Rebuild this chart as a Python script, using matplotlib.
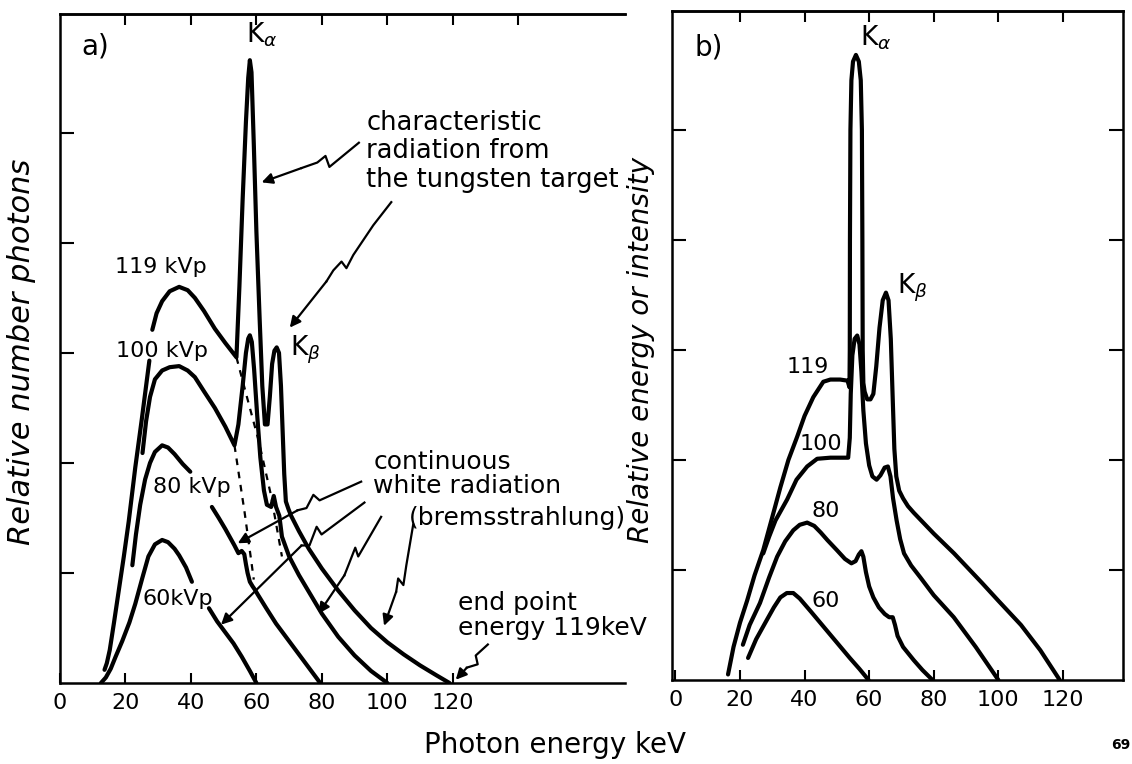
"""X-ray tube spectra from a tungsten target: a) photon number, b) energy/intensity."""
import matplotlib
matplotlib.use("Agg")
import matplotlib.pyplot as plt

plt.rcParams["font.family"] = ["DejaVu Sans"]
plt.rcParams["mathtext.fontset"] = "dejavusans"

# ---- panel a: relative number of photons (keV, relative units) -------------
A119_RISE_E = [13.6, 14.3, 15.2, 16.5, 18.0, 19.5, 21.0, 23.0, 25.0, 27.3]
A119_RISE_Y = [0.12, 0.18, 0.30, 0.55, 0.85, 1.15, 1.47, 1.96, 2.40, 2.93]
A119_E = [28.2, 29.5, 31.2, 33.5, 36.4, 39.0, 41.2, 44.0, 47.3, 50.5, 53.9, 54.8,
          55.8, 56.8, 57.5, 58.0, 58.5, 59.2, 60.0, 61.0, 61.8, 62.6, 63.4, 64.1,
          64.8, 65.5, 66.2, 66.9, 67.5, 68.0, 68.5, 69.0, 69.8, 70.6, 73, 76, 80,
          85, 90, 95, 100, 105, 110, 115, 119]
A119_Y = [3.21, 3.36, 3.47, 3.56, 3.60, 3.57, 3.50, 3.38, 3.22, 3.09, 2.96, 3.6,
          4.4, 5.1, 5.5, 5.66, 5.55, 4.9, 4.1, 3.3, 2.7, 2.35, 2.35, 2.6,
          2.9, 3.02, 3.05, 3.0, 2.7, 2.3, 1.9, 1.65, 1.58, 1.52, 1.38, 1.22, 1.04,
          0.84, 0.66, 0.50, 0.37, 0.26, 0.16, 0.07, 0]
A100_E = [25.2, 26.3, 27.5, 29.0, 31.2, 33.5, 36.4, 39.0, 41.2, 44.0, 47.3, 50.5,
          53.3, 54.5, 55.8, 56.8, 57.5, 58.0, 58.6, 59.3, 60.2, 61.2, 62.3, 63.2,
          64.5, 65.3, 66.0, 67.0, 67.8, 70, 73, 76, 80, 85, 90, 95, 100]
A100_Y = [2.09, 2.38, 2.60, 2.76, 2.84, 2.87, 2.88, 2.84, 2.78, 2.65, 2.50, 2.33,
          2.16, 2.35, 2.7, 3.0, 3.13, 3.16, 3.1, 2.85, 2.45, 2.05, 1.75, 1.62,
          1.60, 1.70, 1.60, 1.52, 1.33, 1.15, 0.98, 0.83, 0.63, 0.42, 0.25, 0.11, 0]
A80_UP_E = [22.1, 23.2, 24.5, 26.0, 27.5, 29.0, 31.2, 33.0, 35.0, 37.5, 39.8]
A80_UP_Y = [1.07, 1.35, 1.62, 1.85, 2.00, 2.10, 2.16, 2.14, 2.08, 1.99, 1.92]
A80_LO_E = [46.4, 48.5, 50.5, 53.3, 54.5, 55.5, 56.3, 56.8, 57.3, 58.0, 58.8, 59.5,
            60.5, 63.0, 66.0, 68.5, 71.0, 74.0, 77.0, 79.5]
A80_LO_Y = [1.60, 1.50, 1.40, 1.25, 1.18, 1.20, 1.17, 1.08, 1.00, 0.92, 0.88, 0.85,
            0.80, 0.68, 0.54, 0.44, 0.34, 0.22, 0.10, 0]
A60_UP_E = [12.5, 14.0, 15.5, 17.0, 19.0, 21.2, 23.0, 25.2, 27.0, 29.0, 31.2, 33.0,
            35.0, 36.4, 38.5, 40.3]
A60_UP_Y = [0, 0.05, 0.13, 0.24, 0.38, 0.55, 0.72, 0.96, 1.15, 1.26, 1.30, 1.28,
            1.22, 1.16, 1.05, 0.92]
A60_LO_E = [45.5, 48, 50.5, 53, 55.5, 58, 60]
A60_LO_Y = [0.68, 0.56, 0.46, 0.36, 0.24, 0.11, 0]
DASH_A_E = [53.9, 57.1, 60.7, 64.5, 67.8]
DASH_A_Y = [2.96, 2.60, 2.20, 1.70, 1.15]
DASH_B_E = [53.3, 56.4, 59.2]
DASH_B_Y = [2.16, 1.55, 0.94]

# ---- panel b: relative energy or intensity ---------------------------------
B119_E = [16.3, 18, 20, 22.2, 24.5, 27.2, 30, 32.5, 35, 37.7, 40, 42.7, 45.8, 48,
          51, 53.3, 53.9, 54.0, 54.05, 54.2, 54.5, 55.0, 55.9, 56.8, 57.4, 57.75,
          57.9, 58.0, 58.2, 58.6, 59.4, 60.4, 61.3, 62.2, 63.2, 64.2, 65.2, 66.0,
          66.7, 67.3, 67.8, 68.4, 69.3, 70.5, 72, 73.8, 80, 86.3, 95, 100, 107,
          113, 119]
B119_Y = [0.05, 0.30, 0.52, 0.72, 0.95, 1.18, 1.48, 1.75, 2.0, 2.21, 2.4, 2.57,
          2.71, 2.73, 2.73, 2.72, 2.66, 3.0, 4.0, 5.0, 5.45, 5.62, 5.68, 5.62, 5.45,
          5.0, 4.0, 3.0, 2.7, 2.62, 2.55, 2.55, 2.6, 2.85, 3.2, 3.45, 3.52, 3.45,
          3.1, 2.55, 2.1, 1.85, 1.72, 1.65, 1.58, 1.52, 1.33, 1.15, 0.88, 0.72, 0.5,
          0.27, 0]
B100_E = [27.2, 29, 31, 34.6, 37.5, 40.8, 43.9, 48, 53.5, 54.0, 54.3, 54.8, 55.5,
          56.3, 57.0, 57.6, 58.2, 59.0, 60.0, 61.0, 62.3, 63.5, 64.8, 65.8, 66.6,
          67.4, 68.5, 69.6, 70.8, 73, 75.9, 80, 86.2, 93, 100]
B100_Y = [1.15, 1.30, 1.45, 1.64, 1.82, 1.94, 2.01, 2.02, 2.02, 2.2, 2.6, 2.95,
          3.1, 3.13, 3.05, 2.8, 2.45, 2.15, 1.95, 1.85, 1.82, 1.86, 1.93, 1.94, 1.85,
          1.65, 1.45, 1.28, 1.15, 1.04, 0.93, 0.77, 0.57, 0.30, 0]
B80_E = [20.9, 23, 26.2, 29, 31.5, 34, 36.5, 38.5, 40.8, 43, 45, 47.1, 50, 52.5,
         54.5, 55.8, 56.8, 57.6, 58.2, 59.0, 60.0, 61.3, 63, 64.8, 66.2, 67.3, 68.0,
         68.8, 70.5, 73.8, 76.5, 79.6]
B80_Y = [0.32, 0.50, 0.70, 0.93, 1.12, 1.26, 1.36, 1.41, 1.43, 1.40, 1.34, 1.27,
         1.18, 1.10, 1.06, 1.08, 1.14, 1.17, 1.12, 0.98, 0.85, 0.75, 0.66, 0.60,
         0.57, 0.57, 0.50, 0.40, 0.30, 0.18, 0.09, 0]
B60_E = [22.5, 25, 28.4, 30.5, 32.5, 34.5, 36.5, 38.5, 42, 46, 50, 54, 57, 59.8]
B60_Y = [0.20, 0.37, 0.55, 0.66, 0.75, 0.79, 0.79, 0.74, 0.62, 0.48, 0.34, 0.20,
         0.10, 0]

X_LABELS = [0, 20, 40, 60, 80, 100, 120]
Y_TICKS = [1, 2, 3, 4, 5]

# zig-zag annotation arrows in panel a (keV, relative units)
ARROW_CHAR = ([91.3, 82.3, 81.1, 78.6, 73.8, 61.6], [4.91, 4.69, 4.79, 4.73, 4.68, 4.55])
ARROW_KB = ([101.2, 95.7, 89.6, 87.5, 86.0, 83.5, 81.4, 70.2],
            [4.37, 4.16, 3.89, 3.77, 3.83, 3.75, 3.65, 3.23])
ARROW_W1 = ([92.0, 79.3, 77.4, 75.3, 72.6, 54.3], [1.83, 1.66, 1.71, 1.59, 1.57, 1.27])
ARROW_W2 = ([93.0, 79.9, 78.4, 76.2, 73.8, 49.2], [1.64, 1.35, 1.42, 1.25, 1.25, 0.53])
ARROW_W3 = ([98.1, 91.1, 90.2, 88.1, 86.9, 79.0], [1.51, 1.15, 1.23, 1.07, 0.98, 0.63])
ARROW_W4 = ([107.9, 105.8, 104.9, 103.3, 102.7, 99.0], [1.44, 1.07, 0.89, 0.95, 0.83, 0.52])
ARROW_END = ([130.7, 127.0, 127.6, 124.3, 120.9], [0.35, 0.25, 0.17, 0.14, 0.03])

LW = 3.0
TXT = 18


def curve(ax, e, y, **kw):
    ax.plot(e, y, color="k", lw=kw.pop("lw", LW), solid_capstyle="round",
            solid_joinstyle="round", **kw)


def zigzag(ax, path):
    xs, ys = path
    ax.plot(xs[:-1], ys[:-1], color="k", lw=1.6, solid_joinstyle="round")
    ax.annotate("", xy=(xs[-1], ys[-1]), xytext=(xs[-2], ys[-2]),
                arrowprops=dict(arrowstyle="-|>", color="k", lw=1.6,
                                mutation_scale=16, shrinkA=0, shrinkB=0))


def style_axes(ax, top_ticks, right=False):
    ax.set_ylim(0, 6.08)
    ax.set_xticks(X_LABELS)
    ax.set_xticklabels([str(v) for v in X_LABELS], fontsize=16)
    ax.set_yticks(Y_TICKS)
    ax.set_yticklabels([])
    ax.tick_params(axis="x", direction="in", length=7, width=1.5, pad=7)
    ax.tick_params(axis="y", direction="in", length=10, width=1.5,
                   left=True, right=right)
    for s in ax.spines.values():
        s.set_linewidth(1.8)
    sec = ax.secondary_xaxis("top")
    sec.set_xticks(top_ticks)
    sec.tick_params(direction="in", length=8, width=1.5, labeltop=False)
    sec.spines["top"].set_linewidth(1.8)


fig = plt.figure(figsize=(11.32, 7.64), dpi=100)

# --- panel a -----------------------------------------------------------------
ax = fig.add_axes([60 / 1132, 0.106, 565 / 1132, 0.8757])
ax.set_xlim(0.85, 172.6)
style_axes(ax, [20, 40, 60, 80, 100, 120, 140])
ax.spines["right"].set_visible(False)

curve(ax, A119_RISE_E, A119_RISE_Y)
curve(ax, A119_E, A119_Y)
curve(ax, A100_E, A100_Y)
curve(ax, A80_UP_E, A80_UP_Y)
curve(ax, A80_LO_E, A80_LO_Y)
curve(ax, A60_UP_E, A60_UP_Y)
curve(ax, A60_LO_E, A60_LO_Y)
ax.plot(DASH_A_E, DASH_A_Y, color="k", lw=1.6, ls=(0, (3, 3)))
ax.plot(DASH_B_E, DASH_B_Y, color="k", lw=1.6, ls=(0, (3, 3)))

for path in (ARROW_CHAR, ARROW_KB, ARROW_W1, ARROW_W2, ARROW_W3, ARROW_W4, ARROW_END):
    zigzag(ax, path)

ax.text(6.4, 5.78, "a)", fontsize=20, va="center")
ax.text(56.8, 5.89, r"K$_{\alpha}$", fontsize=19, va="center")
ax.text(70.2, 3.03, r"K$_{\beta}$", fontsize=19, va="center")
ax.text(16.7, 3.78, "119 kVp", fontsize=16, va="center")
ax.text(17.0, 3.02, "100 kVp", fontsize=16, va="center")
ax.text(28.3, 1.78, "80 kVp", fontsize=16, va="center")
ax.text(25.2, 0.76, "60kVp", fontsize=16, va="center")
ax.text(93.6, 5.21, "characteristic\nradiation from\nthe tungsten target",
        fontsize=18.5, va="top", linespacing=1.12)
ax.text(95.7, 2.12, "continuous\nwhite radiation", fontsize=TXT, va="top",
        linespacing=1.0)
ax.text(106.7, 1.5, "(bremsstrahlung)", fontsize=TXT, va="center")
ax.text(121.5, 0.84, "end point\nenergy 119keV", fontsize=TXT, va="top",
        linespacing=1.05)

# --- panel b -----------------------------------------------------------------
bx = fig.add_axes([672 / 1132, 0.110, 451 / 1132, 0.8757])
bx.set_xlim(-1.05, 138.6)
style_axes(bx, [20, 40, 60, 80, 100, 120], right=True)

curve(bx, B119_E, B119_Y)
curve(bx, B100_E, B100_Y)
curve(bx, B80_E, B80_Y)
curve(bx, B60_E, B60_Y)

bx.text(6.0, 5.75, "b)", fontsize=20, va="center")
bx.text(57.1, 5.84, r"K$_{\alpha}$", fontsize=19, va="center")
bx.text(68.6, 3.56, r"K$_{\beta}$", fontsize=19, va="center")
bx.text(34.5, 2.84, "119", fontsize=16, va="center")
bx.text(38.6, 2.14, "100", fontsize=16, va="center")
bx.text(42.3, 1.54, "80", fontsize=16, va="center")
bx.text(42.3, 0.72, "60", fontsize=16, va="center")

# --- shared labels -----------------------------------------------------------
fig.text(555 / 1132, 1 - 745 / 764, "Photon energy keV", fontsize=20,
         ha="center", va="center")
fig.text(22 / 1132, 1 - 352 / 764, "Relative number photons", fontsize=22,
         style="italic", rotation=90, ha="center", va="center")
fig.text(641 / 1132, 1 - 350 / 764, "Relative energy or intensity", fontsize=20,
         style="italic", rotation=90, ha="center", va="center")
fig.text(1111 / 1132, 1 - 745 / 764, "69", fontsize=10, fontweight="bold",
         ha="left", va="center")

fig.savefig("out.png", dpi=100)
